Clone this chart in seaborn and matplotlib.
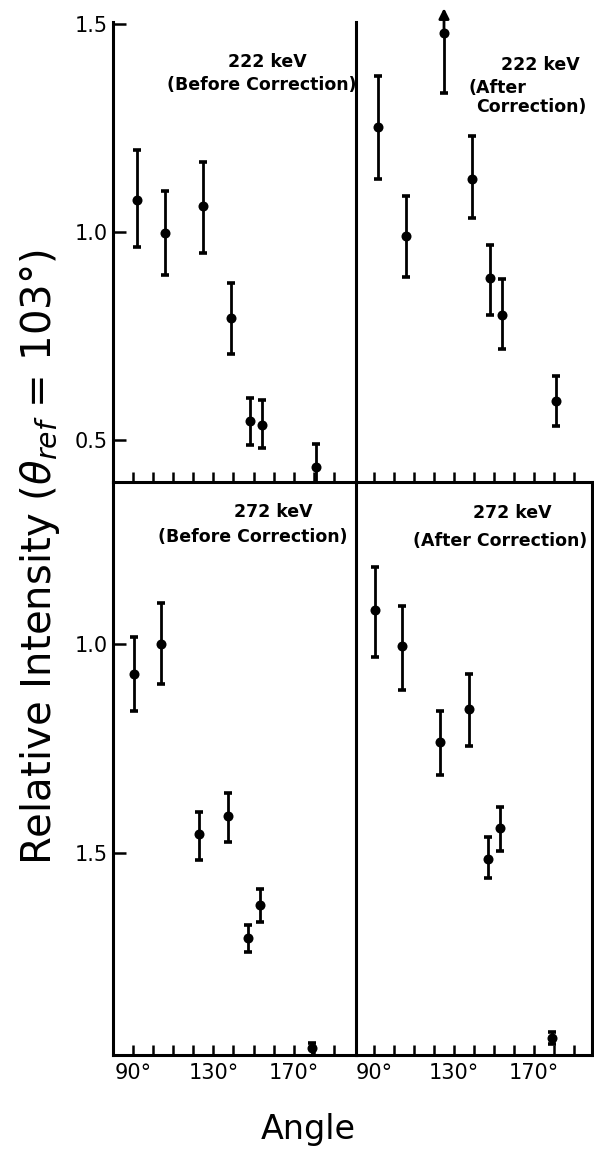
import numpy as np
import matplotlib
matplotlib.use("Agg")
import matplotlib.pyplot as plt
import seaborn as sns
import pandas as pd

# ---- data ----
angles_222 = [92, 106, 125, 139, 148, 154, 181]
before_222 = [1.078, 0.998, 1.062, 0.793, 0.547, 0.536, 0.437]
before_222_lo = [0.965, 0.897, 0.949, 0.707, 0.490, 0.482, 0.382]
before_222_hi = [1.197, 1.098, 1.169, 0.879, 0.602, 0.596, 0.492]

after_222 = [1.252, 0.990, 1.479, 1.128, 0.891, 0.801, 0.594]
after_222_lo = [1.128, 0.892, 1.335, 1.034, 0.801, 0.719, 0.535]
after_222_hi = [1.375, 1.087, 1.545, 1.232, 0.970, 0.887, 0.654]
after_222_arrow = [False, False, True, False, False, False, False]

angles_272 = [90.5, 104, 123, 137.5, 147, 153, 179]
before_272 = [0.928, 1.000, 0.545, 0.589, 0.298, 0.375, 0.033]
before_272_lo = [0.840, 0.904, 0.484, 0.526, 0.263, 0.336, 0.010]
before_272_hi = [1.016, 1.099, 0.598, 0.645, 0.328, 0.414, 0.045]

after_272 = [1.081, 0.995, 0.765, 0.844, 0.486, 0.561, 0.057]
after_272_lo = [0.969, 0.890, 0.687, 0.757, 0.440, 0.506, 0.043]
after_272_hi = [1.184, 1.091, 0.840, 0.928, 0.538, 0.610, 0.071]

x_ticks = [90, 100, 110, 120, 130, 140, 150, 160, 170, 180, 190]
x_ticklabels = ["90°", "", "", "", "130°", "", "", "", "170°", "", ""]
top_yticks = [0.5, 1.0, 1.5]
top_yticklabels = ["0.5", "1.0", "1.5"]
bottom_yticks = [0.5, 1.0]
bottom_yticklabels = ["1.5", "1.0"]

sns.set_theme(style="ticks")
plt.rcParams['font.family'] = ['DejaVu Sans']

W, H = 594, 1153
fig = plt.figure(figsize=(W / 100, H / 100), dpi=100)
fig.patch.set_facecolor("white")


def rect(x0, y0, x1, y1):
    return [x0 / W, 1 - y1 / H, (x1 - x0) / W, (y1 - y0) / H]


def px(x, y):
    return x / W, 1 - y / H


ax_tl = fig.add_axes(rect(113, 22, 356, 482))
ax_tr = fig.add_axes(rect(356, 22, 592, 482))
ax_bl = fig.add_axes(rect(113, 482, 356, 1055))
ax_br = fig.add_axes(rect(356, 482, 592, 1055))


def draw(ax, x, y, lo, hi, arrow=None):
    x = np.asarray(x, float)
    y = np.asarray(y, float)
    lo = np.asarray(lo, float)
    hi = np.asarray(hi, float)
    up = hi - y
    if arrow is not None:
        arrow = np.asarray(arrow)
        up = np.where(arrow, 0.0, up)
    ax.errorbar(x, y, yerr=[y - lo, up], fmt='none', ecolor='black',
                elinewidth=2.0, capsize=3.0, capthick=2.6, zorder=2)
    df = pd.DataFrame({"angle": x, "intensity": y})
    sns.scatterplot(data=df, x="angle", y="intensity", ax=ax, color="black",
                    s=52, edgecolor="black", linewidth=0, zorder=3, legend=False)
    if arrow is not None:
        for xi, yi, hii, a in zip(x, y, hi, arrow):
            if a:
                ax.annotate("", xy=(xi, hii), xytext=(xi, yi),
                            arrowprops=dict(arrowstyle="-|>", color="black",
                                            lw=2.0, mutation_scale=15),
                            annotation_clip=False)
    ax.set_xlabel("")
    ax.set_ylabel("")


draw(ax_tl, angles_222, before_222, before_222_lo, before_222_hi)
draw(ax_tr, angles_222, after_222, after_222_lo, after_222_hi, after_222_arrow)
draw(ax_bl, angles_272, before_272, before_272_lo, before_272_hi)
draw(ax_br, angles_272, after_272, after_272_lo, after_272_hi)

for ax in (ax_tl, ax_bl):
    ax.set_xlim(80, 201)
for ax in (ax_tr, ax_br):
    ax.set_xlim(81, 199)
for ax in (ax_tl, ax_tr):
    ax.set_ylim(0.40, 1.505)
for ax in (ax_bl, ax_br):
    ax.set_ylim(0.017, 1.388)

for ax in (ax_tl, ax_tr, ax_bl, ax_br):
    ax.set_facecolor("none")
    ax.set_xticks(x_ticks)
    ax.tick_params(axis="x", direction="in", length=7, width=1.8,
                   colors="black", labelsize=15, pad=6, top=False, bottom=True)
    for s in ax.spines.values():
        s.set_linewidth(2.2)
        s.set_color("black")
        s.set_zorder(5)

for ax in (ax_tl, ax_tr):
    ax.set_xticklabels([""] * len(x_ticks))
for ax in (ax_bl, ax_br):
    ax.set_xticklabels(x_ticklabels)

ax_tl.set_yticks(top_yticks)
ax_tl.set_yticklabels(top_yticklabels)
ax_bl.set_yticks(bottom_yticks)
ax_bl.set_yticklabels(bottom_yticklabels)
for ax in (ax_tl, ax_bl):
    ax.tick_params(axis="y", direction="in", length=9, width=1.8,
                   colors="black", labelsize=15, pad=4)
for ax in (ax_tr, ax_br):
    ax.set_yticks([])

# spines
ax_tl.spines["top"].set_visible(False)
ax_tr.spines["top"].set_visible(False)
ax_tr.spines["left"].set_visible(False)
ax_tr.spines["right"].set_visible(False)
ax_bl.spines["top"].set_visible(False)
ax_br.spines["top"].set_visible(False)
ax_br.spines["left"].set_visible(False)

# panel annotations
kw = dict(fontsize=12.5, fontweight="bold", color="black")
fig.text(*px(267, 62), "222 keV", ha="center", va="center", **kw)
fig.text(*px(262, 85), "(Before Correction)", ha="center", va="center", **kw)
fig.text(*px(540, 65), "222 keV", ha="center", va="center", **kw)
fig.text(*px(468, 88), "(After", ha="left", va="center", **kw)
fig.text(*px(476, 107), "Correction)", ha="left", va="center", **kw)
fig.text(*px(273, 512), "272 keV", ha="center", va="center", **kw)
fig.text(*px(253, 537), "(Before Correction)", ha="center", va="center", **kw)
fig.text(*px(512, 513), "272 keV", ha="center", va="center", **kw)
fig.text(*px(500, 541), "(After Correction)", ha="center", va="center", **kw)

fig.text(*px(40, 557), r"Relative Intensity ($\theta_{ref}$ = 103°)",
         rotation=90, ha="center", va="center", fontsize=29, color="black")
fig.text(*px(308, 1130), "Angle", ha="center", va="center", fontsize=24,
         color="black")

fig.savefig("out.png", dpi=100, facecolor="white")
